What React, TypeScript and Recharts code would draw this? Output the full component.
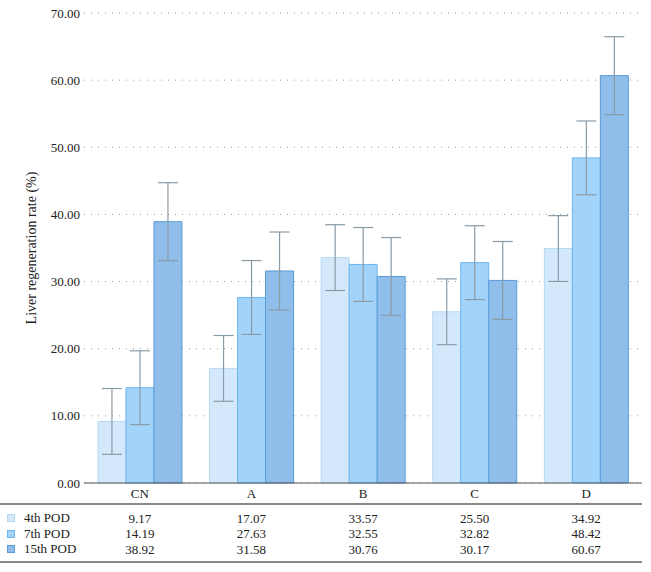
import { BarChart, Bar, XAxis, YAxis, CartesianGrid, ErrorBar } from 'recharts';

const categories = ['CN', 'A', 'B', 'C', 'D'];
const pod4 = [9.17, 17.07, 33.57, 25.5, 34.92];
const pod7 = [14.19, 27.63, 32.55, 32.82, 48.42];
const pod15 = [38.92, 31.58, 30.76, 30.17, 60.67];
const err4 = [4.9, 4.9, 4.9, 4.9, 4.9];
const err7 = [5.5, 5.5, 5.5, 5.5, 5.5];
const err15 = [5.8, 5.8, 5.8, 5.8, 5.8];
const yTicks = [0, 10, 20, 30, 40, 50, 60, 70];

const series = [
  { key: 'pod4', err: 'err4', name: '4th POD', values: pod4, fill: '#d3e9fb', stroke: '#b4d9f4' },
  { key: 'pod7', err: 'err7', name: '7th POD', values: pod7, fill: '#a2d3fb', stroke: '#6cb5ee' },
  { key: 'pod15', err: 'err15', name: '15th POD', values: pod15, fill: '#8fbeea', stroke: '#5a9ad7' },
];

const data = categories.map((cat, i) => ({
  cat,
  pod4: pod4[i],
  pod7: pod7[i],
  pod15: pod15[i],
  err4: err4[i],
  err7: err7[i],
  err15: err15[i],
}));

const FONT = '"Liberation Serif", "DejaVu Serif", serif';
const TEXT = '#222';

function TableTick(props: any) {
  const { x, y, payload } = props;
  const idx = categories.indexOf(payload.value);
  return (
    <g>
      <text x={x} y={y + 10} textAnchor="middle" dominantBaseline="central" fontSize={13} fontFamily={FONT} fill={TEXT}>
        {payload.value}
      </text>
      {series.map((s, i) => (
        <text
          key={s.key}
          x={x}
          y={y + 35 + i * 15.5}
          textAnchor="middle"
          dominantBaseline="central"
          fontSize={13}
          fontFamily={FONT}
          fill={TEXT}
        >
          {s.values[idx].toFixed(2)}
        </text>
      ))}
    </g>
  );
}

export default function App() {
  return (
    <div style={{ position: 'absolute', left: 0, top: 0, width: 651, height: 572, background: '#fff' }}>
      <BarChart
        width={651}
        height={572}
        data={data}
        margin={{ top: 13, right: 9, bottom: 0, left: 0 }}
        barCategoryGap="12.5%"
        barGap={0}
      >
        <CartesianGrid vertical={false} stroke="#999" strokeDasharray="1 6" />
        <XAxis
          dataKey="cat"
          height={89}
          tickLine={false}
          tickSize={0}
          tickMargin={0}
          axisLine={{ stroke: '#555', strokeWidth: 1 }}
          tick={<TableTick />}
          interval={0}
        />
        <YAxis
          width={84}
          domain={[0, 70]}
          ticks={yTicks}
          axisLine={false}
          tickLine={false}
          tickSize={4}
          tickMargin={0}
          tickFormatter={(v: number) => v.toFixed(2)}
          tick={{ fill: TEXT, fontSize: 13, fontFamily: FONT }}
          label={{
            value: 'Liver regeneration rate (%)',
            angle: -90,
            position: 'insideLeft',
            offset: 31,
            style: { textAnchor: 'middle', fill: TEXT, fontSize: 14, fontFamily: FONT },
          }}
        />
        {series.map((s) => (
          <Bar key={s.key} dataKey={s.key} name={s.name} fill={s.fill} stroke={s.stroke} strokeWidth={1} isAnimationActive={false}>
            <ErrorBar dataKey={s.err} width={10} stroke="#8a9ba6" strokeWidth={1.2} direction="y" />
          </Bar>
        ))}
      </BarChart>
      <div style={{ position: 'absolute', left: 0, top: 503, width: 642, height: 2, background: '#888' }} />
      <div style={{ position: 'absolute', left: 0, top: 561, width: 642, height: 2, background: '#888' }} />
      {series.map((s, i) => (
        <div
          key={s.key}
          style={{
            position: 'absolute',
            left: 7,
            top: 510 + i * 15.5,
            height: 16,
            display: 'flex',
            alignItems: 'center',
            fontFamily: FONT,
            fontSize: 13,
            color: TEXT,
          }}
        >
          <span style={{ width: 8, height: 8, background: s.fill, border: `1px solid ${s.stroke}`, boxSizing: 'border-box', marginRight: 9 }} />
          {s.name}
        </div>
      ))}
    </div>
  );
}
